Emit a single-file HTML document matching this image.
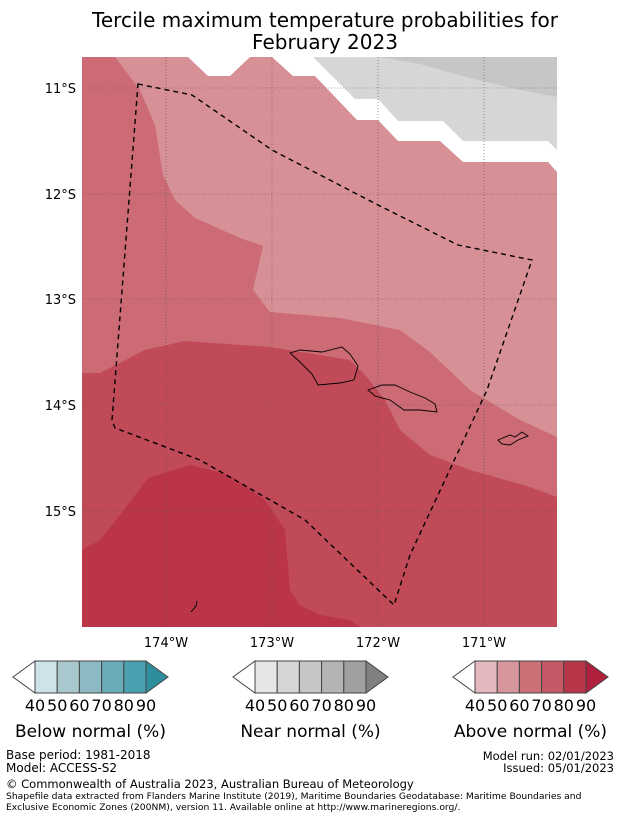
<!DOCTYPE html>
<html><head><meta charset="utf-8"><style>
body{margin:0;background:#fff;width:621px;height:816px;overflow:hidden;font-family:"DejaVu Sans","Liberation Sans",sans-serif;}
svg text{font-family:"DejaVu Sans","Liberation Sans",sans-serif;}
</style></head><body>
<svg width="621" height="816" viewBox="0 0 621 816">
<rect width="621" height="816" fill="#fff"/>
<text x="325" y="27" font-size="20" text-anchor="middle">Tercile maximum temperature probabilities for</text>
<text x="325" y="49" font-size="20" text-anchor="middle">February 2023</text>
<defs><clipPath id="mc"><rect x="82" y="57" width="475" height="570"/></clipPath></defs>
<g clip-path="url(#mc)">
<rect x="82" y="57" width="475" height="570" fill="#cc6b75"/>
<polygon fill="#d69096" points="115,57 140,90 155,125 163,175 175,200 195,218 240,238 263,246 253,290 270,312 340,318 400,330 430,352 470,390 520,420 557,437 557,57"/>
<polygon fill="#c04a58" points="82,373 100,373 145,350 185,341 270,347 350,360 365,375 385,400 400,430 430,455 470,470 530,487 557,497 557,627 82,627"/>
<polygon fill="#bb3549" points="82,550 100,540 120,515 148,478 190,465 230,475 265,500 285,530 290,590 300,605 320,615 350,620 360,627 82,627"/>
<polygon fill="#fff" points="188,57 208,76 230,76 250,57 272,57 293,76 315,76 357,120 378,120 398,141 440,141 463,162 548,162 557,172 557,57"/>
<polygon fill="#d6d6d6" points="313,57 355,99 378,99 398,121 443,121 463,141 548,141 557,150 557,57"/>
<polygon fill="#c6c6c6" points="380,57 557,57 557,97 520,90 470,78 420,64"/>
<g stroke="#555" stroke-width="0.6" stroke-dasharray="1,2">
<line x1="166" y1="57" x2="166" y2="627"/><line x1="272" y1="57" x2="272" y2="627"/><line x1="378" y1="57" x2="378" y2="627"/><line x1="484" y1="57" x2="484" y2="627"/>
<line x1="82" y1="88" x2="557" y2="88"/><line x1="82" y1="194" x2="557" y2="194"/><line x1="82" y1="299" x2="557" y2="299"/><line x1="82" y1="405" x2="557" y2="405"/><line x1="82" y1="511" x2="557" y2="511"/>
</g>
<g fill="none" stroke="#000" stroke-width="0.9">
<polygon points="290,353 300,350 322,352 342,347 350,354 358,366 354,380 340,383 318,385 312,374 300,362"/>
<polygon points="368,390 382,385 395,385 410,392 425,398 435,404 437,412 420,410 404,410 390,400 375,396"/>
<polygon points="498,440 510,435 515,437 522,432 528,436 518,440 510,445 502,444"/>
<polyline points="191,612 196,606 197,601"/>
</g>
<polygon fill="none" stroke="#000" stroke-width="1.4" stroke-dasharray="5,4" points="138,84 192,95 272,150 378,205 458,245 532,260 487,390 410,555 394,605 305,520 200,460 115,428 112,420"/>
</g>
<g font-size="13">
<text x="76" y="93" text-anchor="end">11°S</text><text x="76" y="199" text-anchor="end">12°S</text><text x="76" y="304" text-anchor="end">13°S</text><text x="76" y="410" text-anchor="end">14°S</text><text x="76" y="516" text-anchor="end">15°S</text>
</g>
<g font-size="13" text-anchor="middle">
<text x="166" y="647">174°W</text><text x="272" y="647">173°W</text><text x="378" y="647">172°W</text><text x="484" y="647">171°W</text>
</g>
<g id="cbars"></g>
<g font-size="12">
<text x="6" y="759">Base period: 1981-2018</text>
<text x="6" y="772">Model: ACCESS-S2</text>
<text x="614" y="760" text-anchor="end" font-size="11.5">Model run: 02/01/2023</text>
<text x="614" y="772" text-anchor="end" font-size="11.5">Issued: 05/01/2023</text>
<text x="6" y="788" font-size="11.5">© Commonwealth of Australia 2023, Australian Bureau of Meteorology</text>
<text x="6" y="799" font-size="9.2">Shapefile data extracted from Flanders Marine Institute (2019), Maritime Boundaries Geodatabase: Maritime Boundaries and</text>
<text x="6" y="810" font-size="9.2">Exclusive Economic Zones (200NM), version 11. Available online at http://www.marineregions.org/.</text>
</g>
</svg>
<script>
const tickLabels=["40","50","60","70","80","90"];
const belowColors=["#cde3e8","#a8c8ce","#8cb9c4","#6aabb8","#48a0b0","#2e8e9e"];
const nearColors=["#e6e6e6","#d6d6d6","#c6c6c6","#b4b4b4","#a0a0a0","#808080"];
const aboveColors=["#e3b9bf","#d7969c","#cc7078","#c65967","#b83649","#b01f3c"];
const barTitles=["Below normal (%)","Near normal (%)","Above normal (%)"];
const NS="http://www.w3.org/2000/svg";
const g=document.getElementById('cbars');
function mk(t,a){const e=document.createElementNS(NS,t);for(const k in a)e.setAttribute(k,a[k]);return e;}
[belowColors,nearColors,aboveColors].forEach((cols,i)=>{
  const x0=35+i*220,w=111,y0=661,h=32,seg=w/(cols.length-1);
  const grp=mk('g',{});
  
  
  const lt=mk('polygon',{points:`${x0},${y0} ${x0-22},${y0+h/2} ${x0},${y0+h}`,fill:'#fff',stroke:'#444','stroke-width':1});
  
  
  grp.appendChild(lt);
  for(let j=0;j<cols.length-1;j++){
    const r=mk('rect',{x:x0+j*seg,y:y0,width:seg,height:h,fill:cols[j],stroke:'#444','stroke-width':1});
    
    
    grp.appendChild(r);
  }
  const rt=mk('polygon',{points:`${x0+w},${y0} ${x0+w+22},${y0+h/2} ${x0+w},${y0+h}`,fill:cols[cols.length-1],stroke:'#444','stroke-width':1});
  
  
  grp.appendChild(rt);
  tickLabels.forEach((t,j)=>{
    const tx=mk('text',{x:x0+j*seg,y:y0+h+18,'font-size':16,'text-anchor':'middle'});
    tx.textContent=t;
    
    
    grp.appendChild(tx);
  });
  const tt=mk('text',{x:x0+w/2,y:737,'font-size':17,'text-anchor':'middle'});
  tt.textContent=barTitles[i];
  
  
  grp.appendChild(tt);
  g.appendChild(grp);
});
</script>
</body></html>
